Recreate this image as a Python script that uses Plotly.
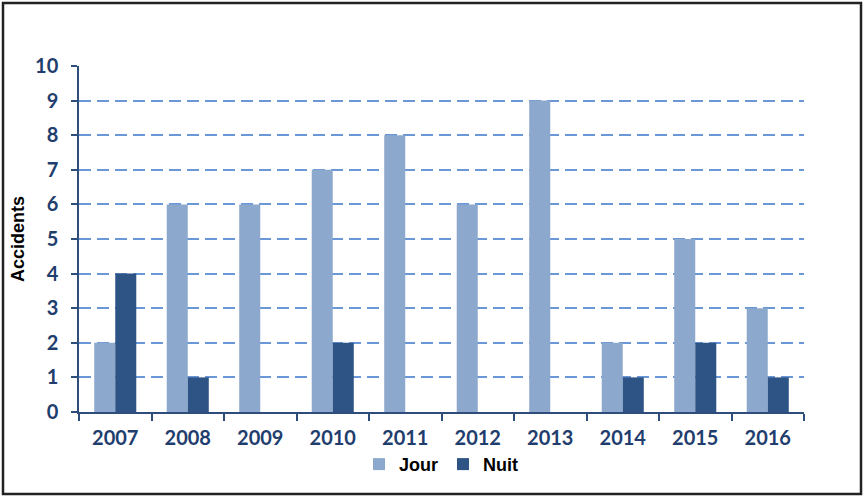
import plotly.graph_objects as go

years = ["2007", "2008", "2009", "2010", "2011", "2012", "2013", "2014", "2015", "2016"]
jour = [2, 6, 6, 7, 8, 6, 9, 2, 5, 3]
nuit = [4, 1, 0, 2, 0, 0, 0, 1, 2, 1]

W, H = 864, 498
L, R, T, B = 79, 60, 66, 86
pw, ph = W - L - R, H - T - B

fig = go.Figure()
fig.add_trace(go.Bar(x=years, y=jour, name="Jour", marker=dict(color="#8DA8CD", line=dict(width=0))))
fig.add_trace(go.Bar(x=years, y=nuit, name="Nuit", marker=dict(color="#2E5385", line=dict(width=0))))

axis_color = "#2E4D7B"
tick_font = dict(family="Lato, Open Sans, sans-serif", size=20, color="#1F3E6E", weight="bold")

fig.update_layout(
    width=W, height=H,
    margin=dict(l=L, r=R, t=T, b=B, autoexpand=False),
    paper_bgcolor="white", plot_bgcolor="white",
    barmode="group", bargap=0.42, bargroupgap=0,
    showlegend=True,
    legend=dict(orientation="h", x=0.5, xanchor="center", xref="paper", y=-0.098, yanchor="top",
                font=dict(family="Liberation Sans, Arial, sans-serif", size=18, color="black", weight="bold"),
                itemwidth=30, tracegroupgap=0),
    xaxis=dict(type="category", showline=True, linecolor=axis_color, linewidth=1.5,
               ticks="outside", tickson="boundaries", ticklen=7, tickcolor=axis_color, tickwidth=1.5,
               tickfont=tick_font, showgrid=False, automargin=False, ticklabelstandoff=7),
    yaxis=dict(range=[0, 10], dtick=1, showline=True, linecolor=axis_color, linewidth=1.5,
               ticks="outside", ticklen=6, tickcolor=axis_color, tickwidth=1.5,
               tickfont=tick_font, showgrid=True, gridcolor="#6A98D6", griddash="12px,6px", gridwidth=1.5,
               zeroline=False, automargin=False, ticklabelstandoff=9),
)

fig.add_annotation(text="Accidents", xref="paper", yref="paper", x=(18 - L) / pw, y=0.5,
                   textangle=-90, showarrow=False, xanchor="center", yanchor="middle",
                   font=dict(family="Liberation Sans, Arial, sans-serif", size=18, color="black", weight="bold"))

# outer border of the chart image
x0 = (3 - L) / pw
x1 = (861 - L) / pw
y1 = 1 + (T - 3) / ph
y0 = (H - B - 494) / ph
fig.add_shape(type="rect", xref="paper", yref="paper", x0=x0, x1=x1, y0=y0, y1=y1,
              line=dict(color="#222222", width=2.5), fillcolor="rgba(0,0,0,0)", layer="below")

fig.write_html("out.html", config={"displayModeBar": False},
               post_script="document.body.style.margin='0';document.body.style.overflow='hidden';")
